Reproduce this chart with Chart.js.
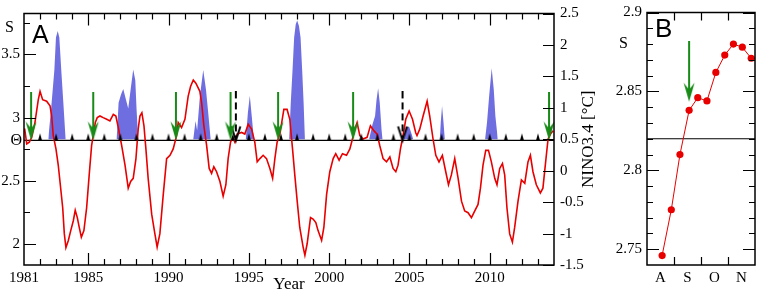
<!DOCTYPE html>
<html>
<head>
<meta charset="utf-8">
<script src="https://cdn.jsdelivr.net/npm/chart.js@4.4.1/dist/chart.umd.min.js"></script>
<style>
    body { margin: 0; background: #fff; }
    #wrap { position: relative; width: 760px; height: 295px; }
    #chartA { position: absolute; left: 0; top: 0; }
    #chartB { position: absolute; left: 600px; top: 0; }
</style>
</head>
<body>
<div id="wrap">
    <canvas id="chartA" width="600" height="295"></canvas>
    <canvas id="chartB" width="160" height="295"></canvas>
</div>
<script>
// ---- data ----
const THETA = 2.82;

// panel A: S (left axis), one entry per traced point
const sYears = [
    1981.04, 1981.17, 1981.33, 1981.48, 1981.68, 1981.89,
    1982.00, 1982.16, 1982.41, 1982.62, 1982.72, 1982.82, 1982.99,
    1983.13, 1983.24, 1983.41, 1983.51, 1983.61, 1983.76, 1983.91,
    1984.07, 1984.19, 1984.32, 1984.44, 1984.57, 1984.73, 1984.90,
    1985.06, 1985.21, 1985.31, 1985.44, 1985.56, 1985.73, 1985.93,
    1986.15, 1986.35, 1986.56, 1986.72, 1986.87,
    1987.08, 1987.29, 1987.49, 1987.64, 1987.80, 1987.97,
    1988.11, 1988.22, 1988.34, 1988.47, 1988.59, 1988.73, 1988.95,
    1989.15, 1989.29, 1989.46, 1989.67, 1989.88,
    1990.09, 1990.29, 1990.50, 1990.60, 1990.81,
    1991.02, 1991.22, 1991.37, 1991.54, 1991.70, 1991.95,
    1992.06, 1992.20, 1992.37, 1992.53, 1992.68, 1992.82, 1992.99,
    1993.20, 1993.40, 1993.57, 1993.71, 1993.86, 1993.99,
    1994.13, 1994.27, 1994.55, 1994.75, 1994.96,
    1995.17, 1995.37, 1995.52, 1995.69, 1995.89,
    1996.10, 1996.31, 1996.48, 1996.62, 1996.76, 1996.93,
    1997.18, 1997.38, 1997.55, 1997.72, 1997.86,
    1998.01, 1998.17, 1998.38, 1998.49, 1998.63, 1998.84,
    1999.00, 1999.17, 1999.31, 1999.53, 1999.67, 1999.84,
    2000.04, 2000.25, 2000.41, 2000.62, 2000.83,
    2001.08, 2001.29, 2001.45, 2001.60, 2001.74, 2001.91,
    2002.11, 2002.36, 2002.57, 2002.78, 2002.99,
    2003.15, 2003.36, 2003.57, 2003.78, 2003.98,
    2004.15, 2004.29, 2004.44, 2004.60, 2004.77, 2004.98,
    2005.19, 2005.39, 2005.47, 2005.64, 2005.85,
    2006.10, 2006.26, 2006.47, 2006.64, 2006.84,
    2007.05, 2007.26, 2007.43, 2007.61, 2007.82,
    2008.03, 2008.24, 2008.44, 2008.65, 2008.86,
    2009.06, 2009.27, 2009.42, 2009.58, 2009.75, 2009.92,
    2010.10, 2010.31, 2010.45, 2010.62, 2010.79, 2010.93,
    2011.07, 2011.24, 2011.41, 2011.55, 2011.76, 2011.97,
    2012.18, 2012.38, 2012.53, 2012.69, 2012.90,
    2013.15, 2013.31, 2013.48, 2013.63, 2013.78, 2013.94
];
const sValues = [
    2.914, 2.792, 2.806, 2.844, 2.961, 3.142,
    3.208, 3.142, 3.130, 3.093, 3.016, 2.860, 2.753,
    2.627, 2.495, 2.287, 2.082, 1.971, 2.028, 2.106,
    2.184, 2.267, 2.209, 2.131, 2.054, 2.106, 2.287,
    2.547, 2.780, 2.858, 2.961, 3.000, 3.013, 3.000,
    2.987, 2.974, 3.026, 3.013, 2.922,
    2.780, 2.624, 2.442, 2.495, 2.520, 2.676,
    2.909, 3.013, 3.039, 2.935, 2.753, 2.520, 2.236,
    2.080, 1.976, 2.082, 2.391, 2.676,
    2.702, 2.753, 2.858, 2.961, 2.922,
    2.987, 3.169, 3.246, 3.298, 3.272, 3.208,
    3.117, 2.935, 2.780, 2.598, 2.559, 2.611, 2.572,
    2.495, 2.378, 2.469, 2.676, 2.806, 2.844,
    2.806, 2.870, 2.883, 2.870, 2.948,
    2.909, 2.806, 2.650, 2.676, 2.702,
    2.676, 2.598, 2.520, 2.676, 2.806, 2.870,
    3.065, 3.065, 2.987, 2.753, 2.547,
    2.339, 2.131, 1.976, 1.911, 2.002, 2.209,
    2.197, 2.170, 2.106, 2.028, 2.131, 2.391,
    2.572, 2.676, 2.715, 2.663, 2.715,
    2.702, 2.753, 2.831, 2.909, 2.961, 2.858,
    2.831, 2.844, 2.935, 2.897, 2.870,
    2.780, 2.676, 2.650, 2.689, 2.598,
    2.572, 2.624, 2.753, 2.858, 2.987, 3.052,
    2.987, 2.880, 2.858, 2.909, 3.013,
    3.130, 3.013, 2.831, 2.702, 2.650,
    2.702, 2.572, 2.469, 2.547, 2.676,
    2.520, 2.339, 2.261, 2.248, 2.209,
    2.261, 2.313, 2.442, 2.624, 2.741, 2.741,
    2.650, 2.520, 2.469, 2.598, 2.637, 2.547,
    2.287, 2.080, 2.015, 2.131, 2.339, 2.508,
    2.481, 2.650, 2.702, 2.572, 2.469,
    2.404, 2.442, 2.650, 2.831, 2.870, 2.897
];

// panel A: NINO3.4 (right axis), only the part above 0.5 is shaded
const ninoYears = [
    1982.51, 1982.72, 1982.89, 1982.99, 1983.10, 1983.20, 1983.32, 1983.45, 1983.59,
    1986.77, 1986.89, 1987.04, 1987.18, 1987.35, 1987.49, 1987.64, 1987.80, 1987.93, 1988.01, 1988.11,
    1991.54, 1991.68, 1991.78, 1991.95, 1992.16, 1992.33, 1992.47, 1992.62,
    1994.81, 1994.94, 1995.06, 1995.19, 1995.31,
    1997.51, 1997.61, 1997.72, 1997.82, 1997.92, 1998.01, 1998.12, 1998.22, 1998.32, 1998.41, 1998.49,
    2002.49, 2002.70, 2002.86, 2002.95, 2003.05, 2003.15, 2003.26, 2003.32,
    2004.65, 2004.77, 2004.98, 2005.14, 2005.23,
    2006.89, 2006.95, 2007.03, 2007.12, 2007.20,
    2009.71, 2009.83, 2009.96, 2010.12, 2010.25, 2010.35, 2010.50
];
const ninoValues = [
    0.5, 1.08, 1.60, 2.12, 2.22, 2.12, 1.60, 1.08, 0.5,
    0.5, 1.08, 1.21, 1.30, 1.13, 0.99, 1.29, 1.61, 1.44, 0.97, 0.5,
    0.5, 0.79, 0.64, 1.18, 1.60, 1.29, 0.92, 0.5,
    0.5, 0.92, 1.19, 0.84, 0.5,
    0.5, 1.08, 1.60, 2.12, 2.33, 2.39, 2.30, 2.12, 1.60, 1.08, 0.5,
    0.5, 0.74, 0.87, 1.13, 1.31, 1.08, 0.66, 0.5,
    0.5, 0.69, 0.70, 0.58, 0.5,
    0.5, 0.77, 1.03, 0.77, 0.5,
    0.5, 0.77, 1.18, 1.63, 1.29, 0.87, 0.5
];

const yearMarks = [1982, 1983, 1984, 1985, 1986, 1987, 1988, 1989, 1990, 1991, 1992,
    1993, 1994, 1995, 1996, 1997, 1998, 1999, 2000, 2001, 2002, 2003, 2004, 2005,
    2006, 2007, 2008, 2009, 2010, 2011, 2012, 2013];
const onsetYears = [1981.44, 1985.31, 1990.46, 1993.86, 1996.82, 2001.49, 2013.69];
const falseAlarmYears = [1994.19, 2004.57];

const yearLabels = [1981, 1985, 1990, 1995, 2000, 2005, 2010];
const sTicks = [2, 2.5, 3, 3.5];
const ninoTicks = [-1.5, -1, -0.5, 0, 0.5, 1, 1.5, 2, 2.5];

// panel B
const bMonths = ['A', 'S', 'O', 'N'];
const bTimes = [0.56, 0.90, 1.22, 1.56, 1.88, 2.22, 2.55, 2.88, 3.20, 3.53, 3.86];
const bValues = [2.746, 2.775, 2.810, 2.838, 2.846, 2.844, 2.862, 2.873, 2.880, 2.878, 2.871];
const bArrow = { x: 1.56, y: 2.8435 };
const bTicks = [2.75, 2.8, 2.85, 2.9];

// ---- styling helpers ----
const SERIF = "'Liberation Serif', 'DejaVu Serif', serif";
const SANS = "'Liberation Sans', 'DejaVu Sans', sans-serif";
const RED = 'rgb(232,0,0)';
const GREEN = '#178a17';

Chart.defaults.animation = false;
Chart.defaults.plugins.legend.display = false;
Chart.defaults.plugins.tooltip.enabled = false;
Chart.defaults.color = '#000';

// arrow drawn in the top half of a canvas so its tip sits on the data point
function makeArrow(color, len, dashed) {
    const c = document.createElement('canvas');
    c.width = 14;
    c.height = len * 2;
    const g = c.getContext('2d');
    const cx = 7;
    g.strokeStyle = color;
    g.fillStyle = color;
    g.lineWidth = 2;
    if (dashed) {
        g.setLineDash([7, 4]);
        g.beginPath(); g.moveTo(cx, 0); g.lineTo(cx, len - 3); g.stroke();
        g.setLineDash([]);
        g.beginPath(); g.moveTo(cx - 4.5, len - 14); g.lineTo(cx, len); g.lineTo(cx + 4.5, len - 14); g.stroke();
    } else {
        g.beginPath(); g.moveTo(cx, 0); g.lineTo(cx, len - 10); g.stroke();
        g.beginPath();
        g.moveTo(cx, len);
        g.lineTo(cx - 5.5, len - 19);
        g.lineTo(cx, len - 12);
        g.lineTo(cx + 5.5, len - 19);
        g.closePath();
        g.fill();
    }
    return c;
}

function makeTriangle() {
    const c = document.createElement('canvas');
    c.width = 6;
    c.height = 16;
    const g = c.getContext('2d');
    g.fillStyle = '#000';
    g.beginPath(); g.moveTo(3, 1); g.lineTo(5, 8); g.lineTo(1, 8); g.closePath(); g.fill();
    return c;
}

// inward tick marks on the frame
function tickMarks(chart, axisId, values, len, sides) {
    const ctx = chart.ctx, a = chart.chartArea, sc = chart.scales[axisId];
    ctx.beginPath();
    values.forEach(v => {
        const p = Math.round(sc.getPixelForValue(v)) + 0.5;
        sides.forEach(side => {
            if (side === 'bottom') { ctx.moveTo(p, a.bottom); ctx.lineTo(p, a.bottom - len); }
            if (side === 'top') { ctx.moveTo(p, a.top); ctx.lineTo(p, a.top + len); }
            if (side === 'left') { ctx.moveTo(a.left, p); ctx.lineTo(a.left + len, p); }
            if (side === 'right') { ctx.moveTo(a.right, p); ctx.lineTo(a.right - len, p); }
        });
    });
    ctx.stroke();
}

function drawFrame(chart) {
    const ctx = chart.ctx, a = chart.chartArea;
    ctx.save();
    ctx.strokeStyle = '#000';
    ctx.lineWidth = 1.5;
    ctx.strokeRect(a.left, a.top, a.right - a.left, a.bottom - a.top);
    ctx.lineWidth = 1.2;
    return ctx;
}

const tickFont = { family: SERIF, size: 15, lineHeight: 1 };

// ---- panel A ----
const majorYears = [], minorYears = [];
for (let y = 1982; y < 2014; y++) (y % 5 === 0 ? majorYears : minorYears).push(y);

const decorA = {
    id: 'decorA',
    afterDraw(chart) {
        const ctx = drawFrame(chart), a = chart.chartArea;
        tickMarks(chart, 'x', majorYears, 12, ['bottom', 'top']);
        tickMarks(chart, 'x', minorYears, 6, ['bottom', 'top']);
        tickMarks(chart, 'yS', sTicks, 12, ['left']);
        tickMarks(chart, 'yS', [2.25, 2.75, 3.25, 3.75], 6, ['left']);
        tickMarks(chart, 'yN', ninoTicks, 11, ['right']);

        ctx.fillStyle = '#000';
        ctx.font = '25px ' + SANS;
        ctx.textAlign = 'left';
        ctx.textBaseline = 'alphabetic';
        ctx.fillText('A', a.left + 8, a.top + 29);

        ctx.font = '16px ' + SERIF;
        ctx.textAlign = 'right';
        ctx.textBaseline = 'middle';
        ctx.fillText('S', a.left - 10, a.top + 14);
        ctx.fillText('\u0398', a.left - 2, chart.scales.yS.getPixelForValue(THETA));

        ctx.translate(a.right + 35, (a.top + a.bottom) / 2);
        ctx.rotate(-Math.PI / 2);
        ctx.textAlign = 'center';
        ctx.font = '17px ' + SERIF;
        ctx.fillText('NINO3.4 [\u00B0C]', 0, 0);
        ctx.restore();
    }
};

new Chart(document.getElementById('chartA').getContext('2d'), {
    type: 'line',
    data: {
        datasets: [
            {
                label: 'onset',
                data: onsetYears.map(x => ({ x: x, y: THETA })),
                yAxisID: 'yS', showLine: false, clip: false,
                pointStyle: makeArrow(GREEN, 48, false), pointRadius: 1
            },
            {
                label: 'false alarm',
                data: falseAlarmYears.map(x => ({ x: x, y: THETA })),
                yAxisID: 'yS', showLine: false, clip: false,
                pointStyle: makeArrow('#000', 49, true), pointRadius: 1
            },
            {
                label: 'year marks',
                data: yearMarks.map(x => ({ x: x, y: THETA })),
                yAxisID: 'yS', showLine: false, clip: false,
                pointStyle: makeTriangle(), pointRadius: 1
            },
            {
                label: 'S',
                data: sYears.map((x, i) => ({ x: x, y: sValues[i] })),
                yAxisID: 'yS',
                borderColor: RED, borderWidth: 1.6, pointRadius: 0, tension: 0
            },
            {
                label: 'Theta',
                data: [{ x: 1981, y: THETA }, { x: 2014, y: THETA }],
                yAxisID: 'yS',
                borderColor: '#000', borderWidth: 1.2, pointRadius: 0
            },
            {
                label: 'NINO3.4',
                data: ninoYears.map((x, i) => ({ x: x, y: ninoValues[i] })),
                yAxisID: 'yN',
                borderWidth: 0, borderColor: 'rgba(0,0,0,0)', pointRadius: 0,
                backgroundColor: 'rgb(110,110,224)',
                fill: { value: 0.5 }
            }
        ]
    },
    plugins: [decorA],
    options: {
        responsive: false,
        layout: { padding: { top: 9, left: 0, right: 0, bottom: 0 } },
        scales: {
            x: {
                type: 'linear', position: 'bottom', min: 1981, max: 2014,
                grid: { display: false, drawTicks: false }, border: { display: false },
                ticks: {
                    stepSize: 1, autoSkip: false, maxRotation: 0, padding: 6, font: tickFont,
                    callback: v => yearLabels.includes(v) ? String(v) : ''
                },
                title: { display: true, text: 'Year', font: { family: SERIF, size: 17 }, padding: 0 },
                afterFit: s => { s.height = 30; }
            },
            yS: {
                type: 'linear', position: 'left', min: 1.834, max: 3.824,
                grid: { display: false, drawTicks: false }, border: { display: false },
                afterBuildTicks: s => { s.ticks = sTicks.map(v => ({ value: v })); },
                ticks: { padding: 4, font: tickFont, callback: v => String(v) },
                afterFit: s => { s.width = 24; }
            },
            yN: {
                type: 'linear', position: 'right', min: -1.5, max: 2.5,
                grid: { display: false, drawTicks: false }, border: { display: false },
                afterBuildTicks: s => { s.ticks = ninoTicks.map(v => ({ value: v })); },
                ticks: { padding: 6, font: tickFont, callback: v => String(v) },
                afterFit: s => { s.width = 46; }
            }
        }
    }
});

// ---- panel B ----
const decorB = {
    id: 'decorB',
    afterDraw(chart) {
        const ctx = drawFrame(chart), a = chart.chartArea;
        tickMarks(chart, 'x', [1, 2, 3], 8, ['bottom', 'top']);
        tickMarks(chart, 'y', bTicks, 12, ['left', 'right']);
        tickMarks(chart, 'y', [2.76, 2.77, 2.78, 2.79, 2.81, 2.82, 2.83, 2.84, 2.86, 2.87, 2.88, 2.89], 6, ['left', 'right']);

        ctx.fillStyle = '#000';
        ctx.font = '26px ' + SANS;
        ctx.textAlign = 'left';
        ctx.textBaseline = 'alphabetic';
        ctx.fillText('B', a.left + 8, a.top + 24);

        ctx.font = '16px ' + SERIF;
        ctx.textAlign = 'right';
        ctx.textBaseline = 'middle';
        ctx.fillText('S', a.left - 19, a.top + 31);
        ctx.restore();
    }
};

new Chart(document.getElementById('chartB').getContext('2d'), {
    type: 'line',
    data: {
        datasets: [
            {
                label: 'onset',
                data: [bArrow],
                showLine: false, clip: false,
                pointStyle: makeArrow(GREEN, 61, false), pointRadius: 1
            },
            {
                label: 'S',
                data: bTimes.map((x, i) => ({ x: x, y: bValues[i] })),
                borderColor: RED, borderWidth: 1, tension: 0,
                pointRadius: 3.6, pointBackgroundColor: RED, pointBorderWidth: 0
            },
            {
                label: 'Theta',
                data: [{ x: 0, y: THETA }, { x: 4, y: THETA }],
                borderColor: '#000', borderWidth: 1.2, pointRadius: 0
            }
        ]
    },
    plugins: [decorB],
    options: {
        responsive: false,
        layout: { padding: { top: 9, left: 0, right: 2, bottom: 0 } },
        scales: {
            x: {
                type: 'linear', min: 0, max: 4,
                grid: { display: false, drawTicks: false }, border: { display: false },
                afterBuildTicks: s => { s.ticks = bMonths.map((m, i) => ({ value: i + 0.5 })); },
                ticks: { padding: 6, maxRotation: 0, autoSkip: false, font: tickFont,
                         callback: (v, i) => bMonths[i] },
                afterFit: s => { s.height = 30; }
            },
            y: {
                type: 'linear', min: 2.74, max: 2.9,
                grid: { display: false, drawTicks: false }, border: { display: false },
                afterBuildTicks: s => { s.ticks = bTicks.map(v => ({ value: v })); },
                ticks: { padding: 5, font: tickFont, callback: v => String(v) },
                afterFit: s => { s.width = 47; }
            }
        }
    }
});
</script>
</body>
</html>
